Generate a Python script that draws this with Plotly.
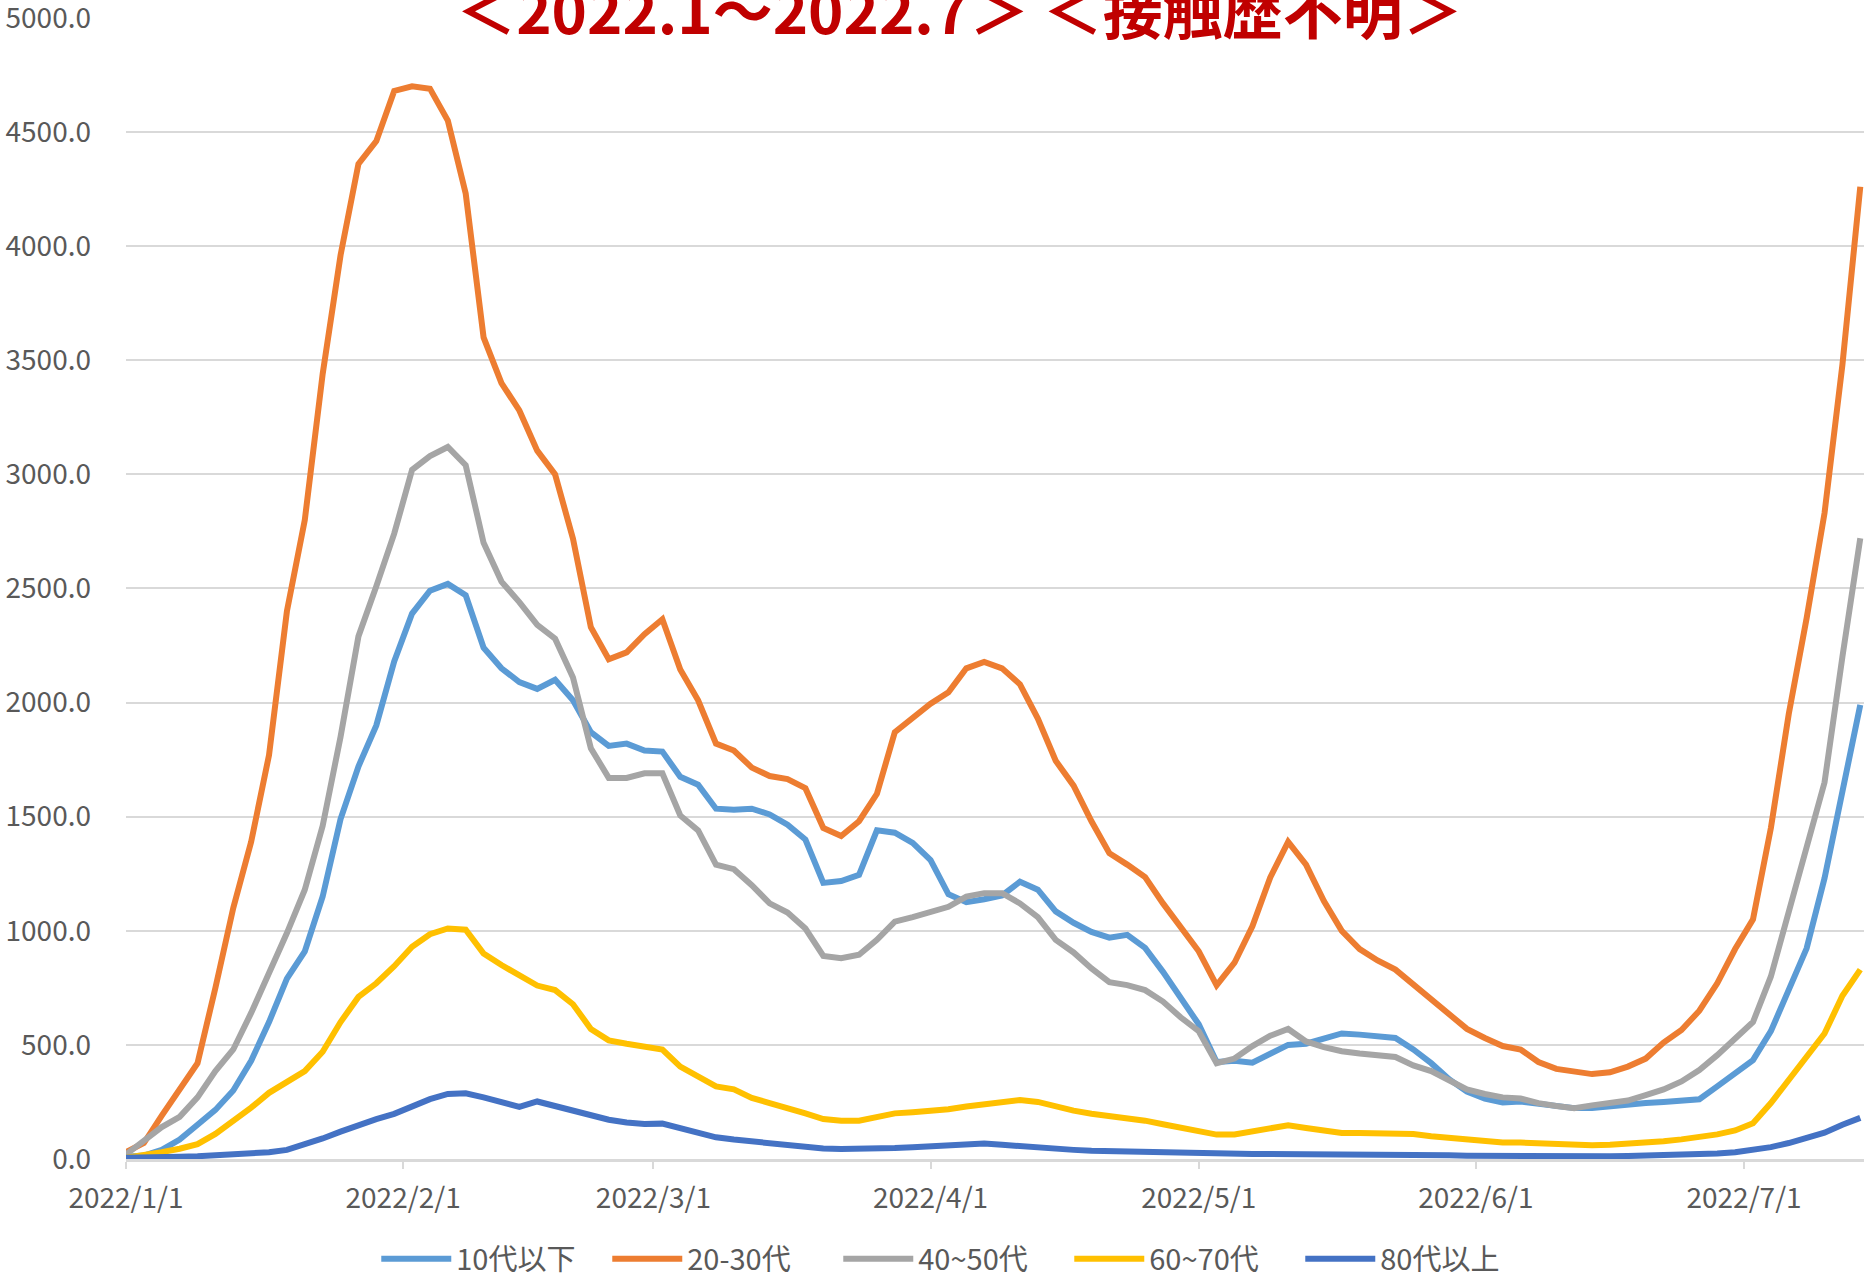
import pandas as pd
import plotly.graph_objects as go

# one reading every second day, 2022/1/1 .. 2022/7/14
dates = pd.date_range("2022-01-01", "2022-07-14", freq="2D")

age_10_under = [
    10, 15, 40, 85, 150, 215, 300, 430, 600, 790,
    910, 1150, 1490, 1720, 1900, 2180, 2390, 2490, 2520, 2470,
    2240, 2150, 2090, 2060, 2100, 2010, 1870, 1810, 1820, 1790,
    1785, 1675, 1640, 1535, 1530, 1535, 1510, 1465, 1400, 1210,
    1218, 1245, 1440, 1430, 1385, 1310, 1160, 1125, 1138, 1155,
    1215, 1180, 1085, 1035, 995, 970, 982, 925, 820, 710,
    590, 425, 430, 422, 460, 500, 505, 530, 550, 545,
    538, 530, 480, 420, 350, 295, 265, 248, 252, 243,
    232, 223, 223, 232, 240, 245, 250, 254, 262, 318,
    372, 433, 560, 750, 923, 1230, 1620, 1990,
]
age_20_30 = [
    30, 70, 190, 310, 420, 750, 1100, 1390, 1770, 2400,
    2800, 3440, 3960, 4360, 4460, 4680, 4700, 4690, 4550, 4230,
    3600, 3400, 3280, 3104, 3000, 2718, 2330, 2190, 2220, 2300,
    2365, 2145, 2010, 1820, 1790, 1715, 1678, 1665, 1625, 1450,
    1415, 1480, 1600, 1870, 1930, 1995, 2045, 2150, 2178, 2150,
    2080, 1930, 1745, 1636, 1480, 1340, 1290, 1235, 1120, 1020,
    910, 761, 860, 1020, 1234, 1390, 1290, 1130, 1000, 920,
    870, 830, 765, 700, 640, 570, 530, 495, 480, 425,
    395, 385, 372, 380, 405, 440, 510, 565, 650, 770,
    920, 1050, 1450, 1950, 2370, 2830, 3480, 4260,
]
age_40_50 = [
    20, 80, 140, 185, 270, 385, 480, 640, 810, 990,
    1180, 1460, 1850, 2290, 2510, 2740, 3020, 3080, 3120, 3040,
    2700, 2530, 2440, 2340, 2280, 2110, 1800, 1670, 1670, 1690,
    1690, 1505, 1440, 1290, 1270, 1200, 1120, 1080, 1010, 890,
    880, 895, 960, 1040, 1060, 1080, 1105, 1150, 1165, 1165,
    1120, 1060, 960, 905, 835, 775, 762, 740, 690, 620,
    560, 420, 440, 495, 540, 570, 515, 490, 472, 462,
    455, 447, 410, 385, 345, 305, 285, 270, 265, 245,
    232, 223, 235, 245, 256, 280, 305, 340, 390, 455,
    525, 600, 800, 1080, 1350, 1650, 2200, 2720,
]
age_60_70 = [
    5, 15, 30, 45, 65, 110, 165, 225, 290, 337,
    385, 470, 600, 710, 770, 845, 930, 985, 1010, 1005,
    900, 850, 805, 760, 740, 678, 570, 520, 505, 495,
    480, 405, 365, 318, 305, 268, 245, 225, 200, 175,
    168, 168, 185, 200, 205, 210, 218, 230, 240, 253,
    258, 250, 228, 212, 198, 190, 180, 168, 152, 137,
    120, 107, 107, 120, 135, 148, 136, 125, 114, 114,
    114, 114, 110, 100, 92, 85, 80, 72, 72, 68,
    64, 60, 60, 62, 66, 70, 78, 86, 94, 108,
    125, 157, 245, 345, 440, 550, 715, 830,
]
age_80_over = [
    5, 5, 8, 10, 12, 15, 18, 22, 30, 40,
    62, 90, 120, 150, 175, 198, 230, 262, 285, 288,
    270, 250, 228, 252, 232, 210, 188, 172, 160, 153,
    155, 135, 115, 95, 85, 76, 68, 60, 52, 46,
    44, 44, 45, 48, 52, 56, 64, 70, 68, 62,
    55, 50, 46, 40, 36, 34, 31, 28, 26, 25,
    24, 24, 24, 22, 22, 22, 22, 22, 21, 20,
    19, 18, 18, 17, 16, 14, 13, 12, 11, 10,
    9, 9, 10, 12, 13, 14, 15, 16, 18, 24,
    30, 38, 52, 70, 90, 115, 150, 180,
]

series = [
    ("10代以下", age_10_under, "#5B9BD5"),
    ("20-30代", age_20_30, "#ED7D31"),
    ("40~50代", age_40_50, "#A5A5A5"),
    ("60~70代", age_60_70, "#FFC000"),
    ("80代以上", age_80_over, "#4472C4"),
]

FONT = "Noto Sans CJK JP"
GRID = "#d9d9d9"
TEXT = "#595959"

fig = go.Figure()
for name, values, color in series:
    fig.add_trace(go.Scatter(
        x=dates, y=values, name=name, mode="lines",
        line=dict(color=color, width=6),
    ))

# title box: white background hides the top gridline like the Excel chart title
fig.add_annotation(
    text="<b>＜2022.1～2022.7＞ ＜接触歴不明＞</b>",
    xref="paper", yref="paper", x=0.4796, y=1,
    xanchor="center", yanchor="middle", yshift=10,
    width=1649, bgcolor="white", showarrow=False,
    font=dict(family=FONT, size=60, color="#C00000"),
)

fig.update_xaxes(
    type="date",
    range=["2022-01-01", "2022-07-14 10:00"],
    tick0="2022-01-01", dtick="M1", tickformat="%Y/%-m/%-d",
    ticks="outside", ticklen=7, tickwidth=1.5, tickcolor=GRID,
    showgrid=False, showline=True, linecolor=GRID, linewidth=2.5,
    ticklabelstandoff=6, automargin=False,
    tickfont=dict(family=FONT, size=28, color=TEXT),
)
fig.update_yaxes(
    range=[0, 5004], tickvals=list(range(0, 5001, 500)), tickformat=".1f",
    showgrid=True, gridcolor=GRID, gridwidth=1.5,
    zeroline=False, showline=False, ticks="",
    ticklabelstandoff=34, automargin=False, ticklabeloverflow="allow",
    tickfont=dict(family=FONT, size=28, color=TEXT),
)
fig.update_layout(
    width=1864, height=1282,
    margin=dict(l=126, r=0, t=17, b=123, autoexpand=False),
    paper_bgcolor="white", plot_bgcolor="white",
    font=dict(family=FONT, color=TEXT),
    showlegend=True,
    legend=dict(
        orientation="h", x=0.144, xanchor="left",
        yref="container", y=0.018, yanchor="middle",
        font=dict(family=FONT, size=29, color=TEXT),
        itemwidth=70, entrywidth=146, entrywidthmode="pixels",
    ),
)

# drop the default page margin so the figure sits flush with the window
fig.write_html(
    "out.html",
    config={"displayModeBar": False},
    post_script="document.body.style.margin = '0';",
)
